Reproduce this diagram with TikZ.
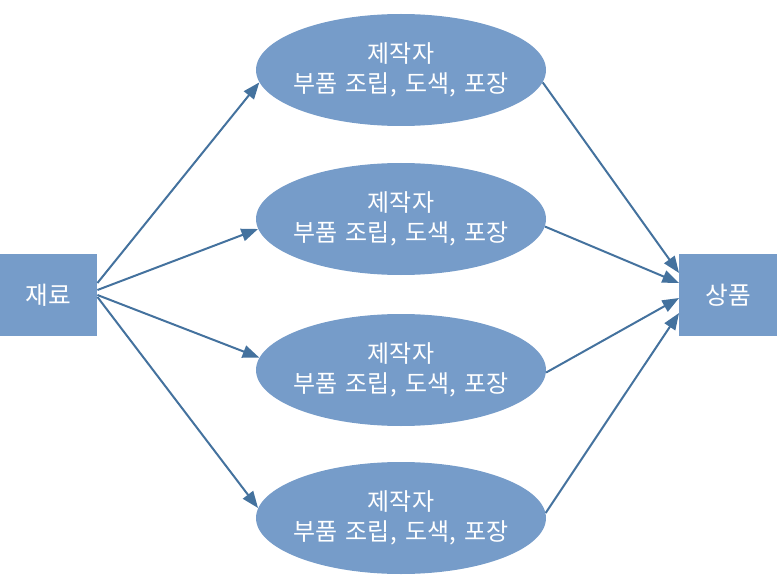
\documentclass[tikz,border=0pt]{standalone}
\usepackage{fontspec}
\setmainfont[WordSpace=1.6]{Noto Sans CJK KR}
\usetikzlibrary{shapes.geometric,arrows.meta,calc}
\definecolor{fillblue}{RGB}{118,156,201}
\definecolor{arrowblue}{RGB}{68,114,158}
\tikzset{
	box/.style={fill=fillblue,text=white,minimum width=73pt,minimum height=61.5pt,inner sep=0pt,font=\fontsize{18.5}{22}\selectfont},
	maker/.style={ellipse,fill=fillblue,text=white,minimum width=217.5pt,minimum height=84pt,inner xsep=-15pt,inner ysep=0pt,align=center,font=\fontsize{18}{22.5}\selectfont},
	flow/.style={arrowblue,line width=1.5pt,-{Triangle[length=12.5pt,width=9.5pt]}}
}
\begin{document}
\begin{tikzpicture}[x=0.75pt,y=0.75pt]
			\useasboundingbox (0,0) rectangle (779,576);
			% 재료
			\node[box] (raw) at (48.5,281) {재료};
			% 상품
			\node[box] (goods) at (728,281) {상품};
			% 제작자
			\node[maker] (maker1) at (401,506) {제작자\\부품 조립, 도색, 포장};
			\node[maker] (maker2) at (401,357) {제작자\\부품 조립, 도색, 포장};
			\node[maker] (maker3) at (401,206) {제작자\\부품 조립, 도색, 포장};
			\node[maker] (maker4) at (401,58) {제작자\\부품 조립, 도색, 포장};
			% Arrows
			\draw[flow] ($(raw.east)+(0,12)$) -- (maker1.185);
			\draw[flow] ($(raw.east)+(0,5)$) -- (maker2.184);
			\draw[flow] ($(raw.east)+(0,0)$) -- (maker3.175);
			\draw[flow] ($(raw.east)+(0,-2)$) -- (maker4.176);
			\draw[flow] (maker1.355) -- ($(goods.west)+(0,22)$);
			\draw[flow] (maker2.357) -- ($(goods.west)+(0,12)$);
			\draw[flow] (maker3.359) -- ($(goods.west)+(0,-3)$);
			\draw[flow] (maker4.2) -- ($(goods.west)+(0,-18)$);
		\end{tikzpicture}
\end{document}
